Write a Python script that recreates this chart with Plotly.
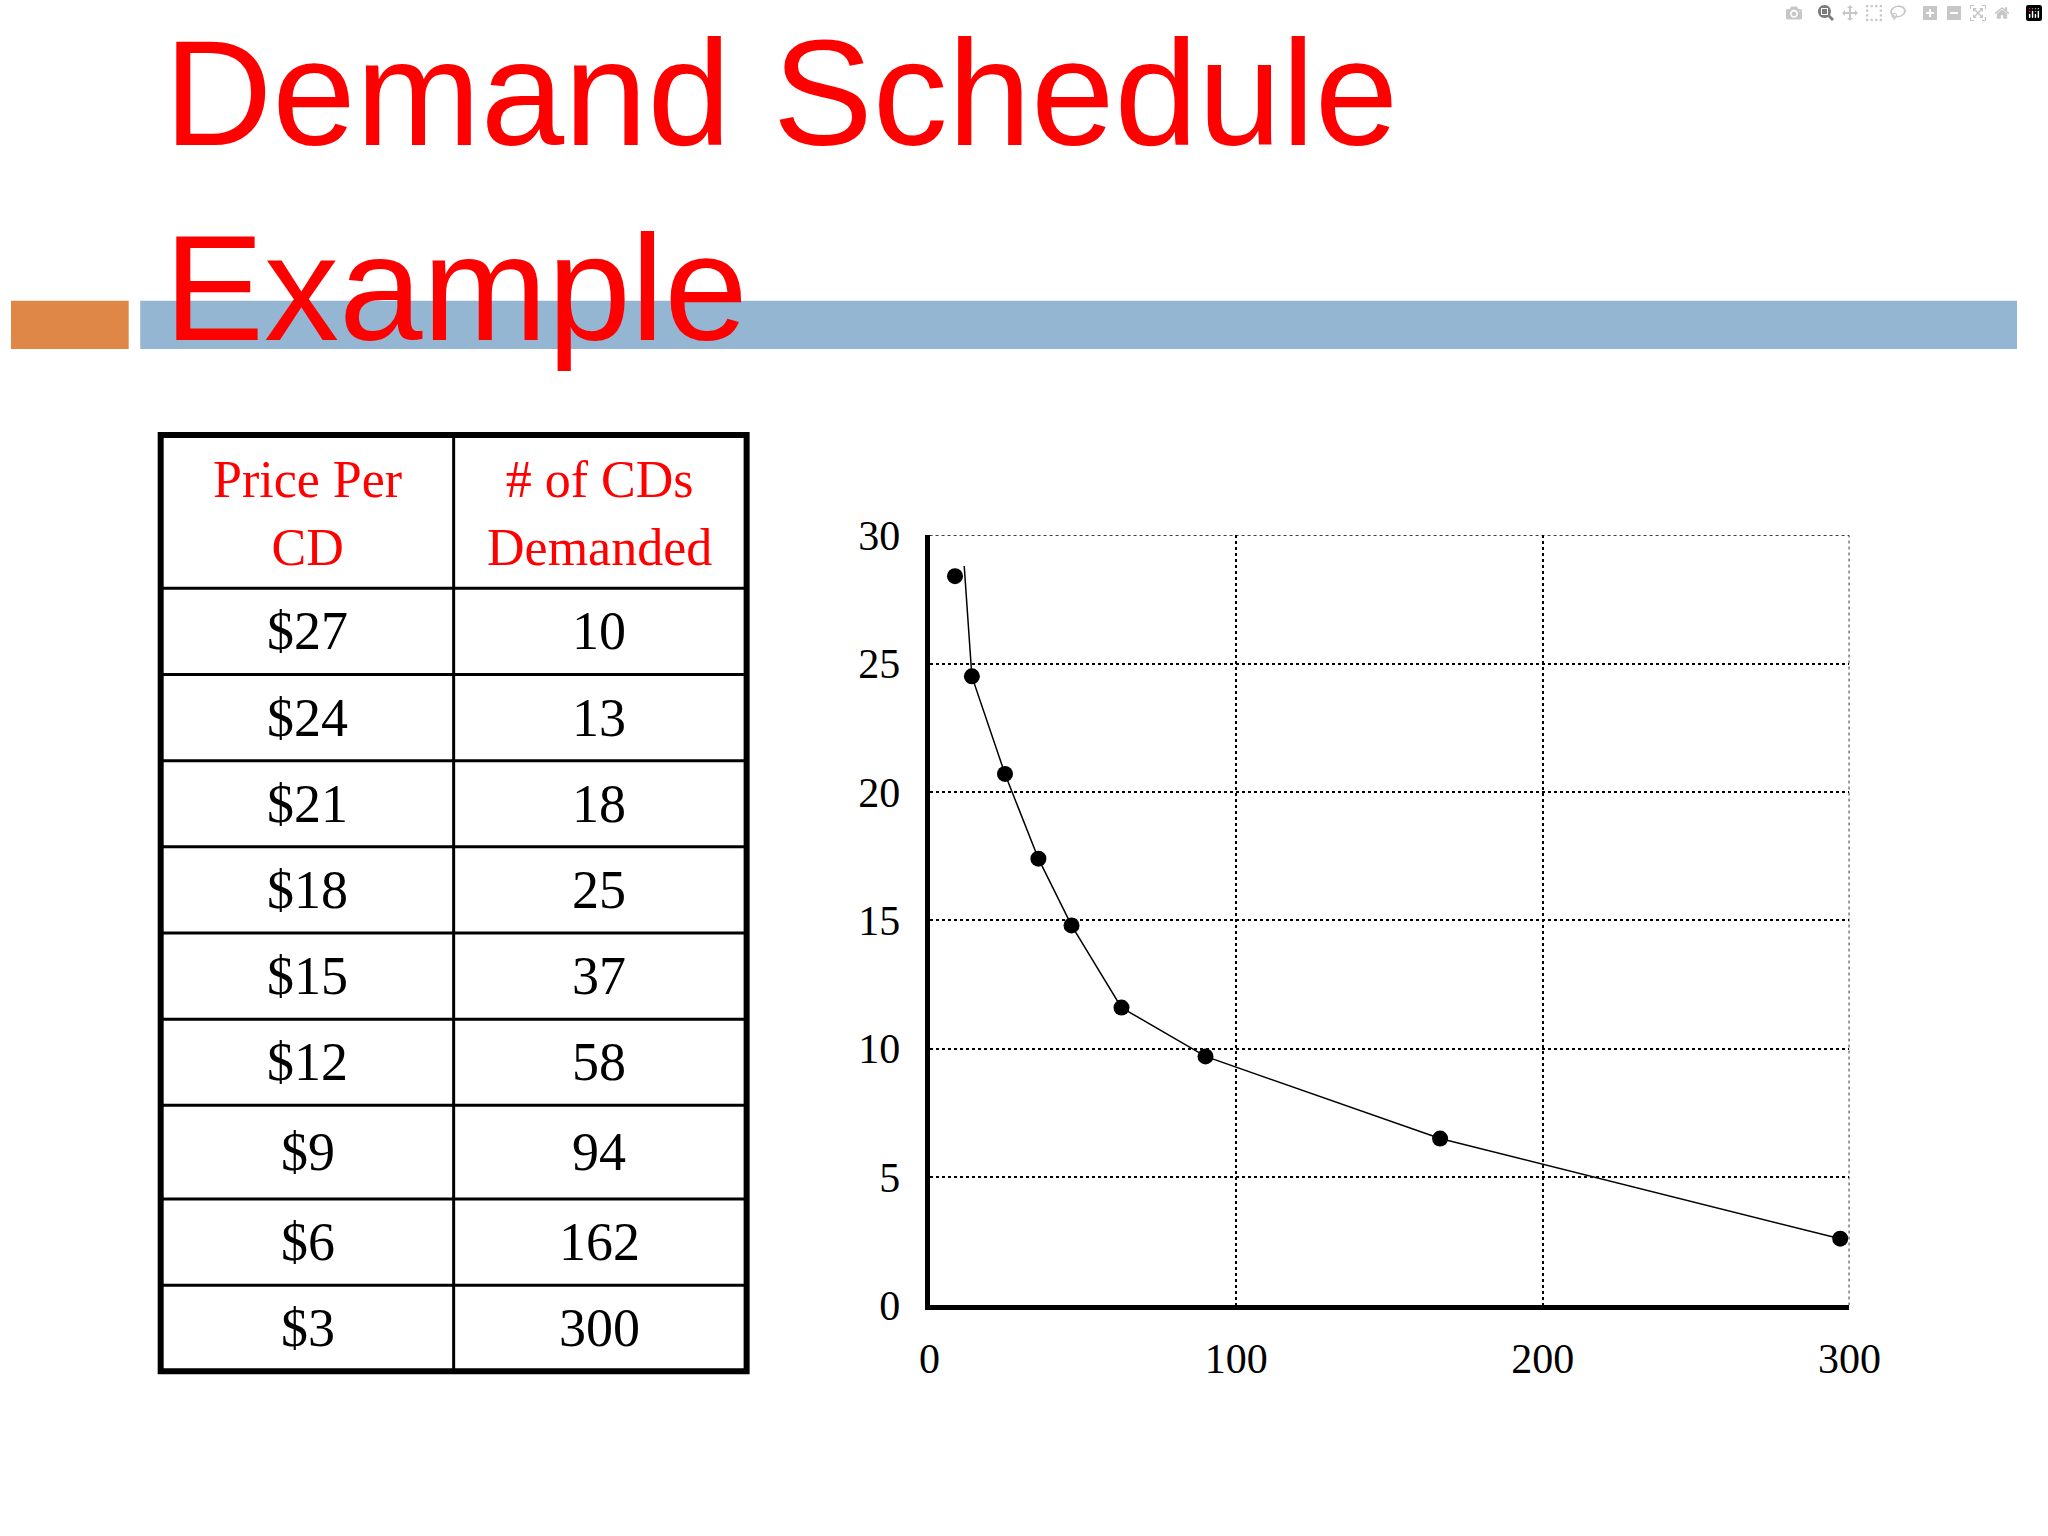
import plotly.graph_objects as go

W, H = 2048, 1536
S = 2048 / 1568

prices = ["$27", "$24", "$21", "$18", "$15", "$12", "$9", "$6", "$3"]
quantities = ["10", "13", "18", "25", "37", "58", "94", "162", "300"]

# points
dot_x = [8.3, 13.8, 24.6, 35.5, 46.3, 62.6, 90, 166.5, 297]
dot_y = [28.4, 24.5, 20.7, 17.4, 14.8, 11.6, 9.7, 6.5, 2.6]
line_x = [11.3, 13.8, 24.6, 35.5, 46.3, 62.6, 90, 166.5, 297]
line_y = [28.8, 24.5, 20.7, 17.4, 14.8, 11.6, 9.7, 6.5, 2.6]

def px(x): return x * S / W
def py(y): return 1 - y * S / H

fig = go.Figure()
fig.add_trace(go.Scatter(x=line_x, y=line_y, mode="lines", line=dict(color="black", width=1.5), showlegend=False))
fig.add_trace(go.Scatter(x=dot_x, y=dot_y, mode="markers", marker=dict(color="black", size=16), showlegend=False))

shapes = []
shapes.append(dict(type="rect", xref="paper", yref="paper", x0=0, x1=px(92), y0=py(258), y1=py(220),
                   fillcolor="#DE8746", line_width=0, layer="below"))
shapes.append(dict(type="rect", xref="paper", yref="paper", x0=px(101), x1=1, y0=py(258), y1=py(220),
                   fillcolor="#94B6D2", line_width=0, layer="below"))
# dotted top and right border of the plot
shapes.append(dict(type="line", xref="x", yref="y", x0=0, x1=300, y0=30, y1=30,
                   line=dict(color="black", width=1.5, dash="dot")))
shapes.append(dict(type="line", xref="x", yref="y", x0=300, x1=300, y0=0, y1=30,
                   line=dict(color="black", width=1.5, dash="dot")))
# table
shapes.append(dict(type="rect", xref="paper", yref="paper", x0=px(117), x1=px(575), y0=py(1065), y1=py(326),
                   line=dict(color="black", width=6)))
shapes.append(dict(type="line", xref="paper", yref="paper", x0=px(346), x1=px(346), y0=py(1065), y1=py(326),
                   line=dict(color="black", width=3)))
rows = [326, 447, 515, 583, 651, 719, 787, 855, 929, 997, 1065]
for r in rows[1:-1]:
    shapes.append(dict(type="line", xref="paper", yref="paper", x0=px(117), x1=px(575), y0=py(r), y1=py(r),
                       line=dict(color="black", width=3)))

ann = []
ann.append(dict(text="Demand Schedule<br>Example", x=px(118), y=py(-12), xref="paper", yref="paper",
                xanchor="left", yanchor="top", showarrow=False, align="left",
                font=dict(family="Liberation Sans", size=150, color="#FF0000")))
serif = "Liberation Serif"
ann.append(dict(text="Price Per<br>CD", x=px(232), y=py(388), xref="paper", yref="paper", showarrow=False,
                xanchor="center", yanchor="middle",
                font=dict(family=serif, size=52, color="#FF0000")))
ann.append(dict(text="# of CDs<br>Demanded", x=px(460), y=py(388), xref="paper", yref="paper", showarrow=False,
                xanchor="center", yanchor="middle",
                font=dict(family=serif, size=52, color="#FF0000")))
for i, (p, q) in enumerate(zip(prices, quantities)):
    yc = (rows[i + 1] + rows[i + 2]) / 2
    ann.append(dict(text=p, x=px(232), y=py(yc), xref="paper", yref="paper", showarrow=False,
                    xanchor="center", yanchor="middle",
                    font=dict(family=serif, size=54, color="black")))
    ann.append(dict(text=q, x=px(460), y=py(yc), xref="paper", yref="paper", showarrow=False,
                    xanchor="center", yanchor="middle",
                    font=dict(family=serif, size=54, color="black")))

fig.update_layout(
    width=W, height=H, margin=dict(l=0, r=0, t=0, b=0),
    paper_bgcolor="white", plot_bgcolor="white",
    shapes=shapes, annotations=ann,
    xaxis=dict(domain=[px(718), px(1437)], range=[0, 300], tickvals=[0, 100, 200, 300],
               showgrid=True, gridcolor="black", griddash="dot", gridwidth=1.5, zeroline=False,
               showline=True, linecolor="black", linewidth=5, ticks="", ticklabelstandoff=12,
               tickfont=dict(family=serif, size=42, color="black")),
    yaxis=dict(domain=[py(1013), py(405)], range=[0, 30], tickvals=[0, 5, 10, 15, 20, 25, 30],
               showgrid=True, gridcolor="black", griddash="dot", gridwidth=1.5, zeroline=False,
               showline=True, linecolor="black", linewidth=5, ticks="", ticklabelstandoff=16,
               tickfont=dict(family=serif, size=42, color="black")),
)
fig.write_html("out.html",
               post_script="document.body.style.margin='0';document.body.style.overflow='hidden';")
